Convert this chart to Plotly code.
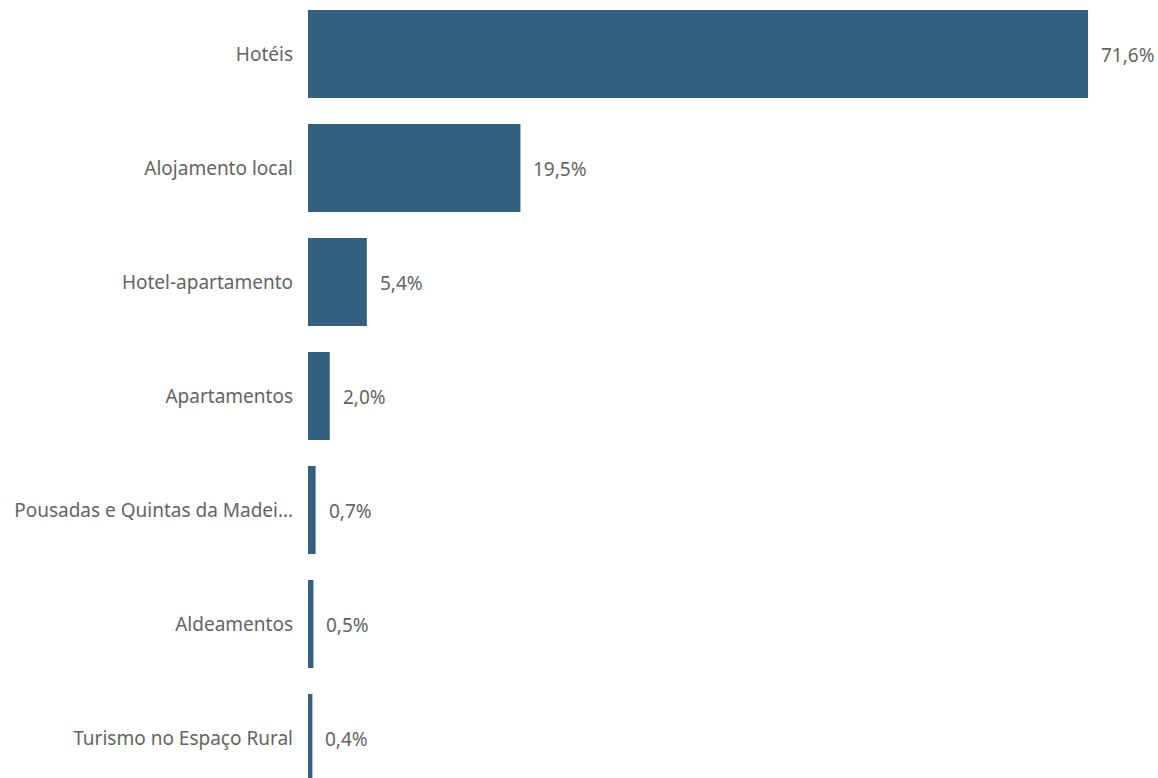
import plotly.graph_objects as go

categories = [
    "Hotéis",
    "Alojamento local",
    "Hotel-apartamento",
    "Apartamentos",
    "Pousadas e Quintas da Madei…",
    "Aldeamentos",
    "Turismo no Espaço Rural",
]
shares = [71.6, 19.5, 5.4, 2.0, 0.7, 0.5, 0.4]
value_labels = ["71,6%", "19,5%", "5,4%", "2,0%", "0,7%", "0,5%", "0,4%"]

BAR_COLOR = "#34607f"
TEXT_COLOR = "#646464"
FONT = "Noto Sans, Open Sans, sans-serif"
FONT_SIZE = 19

fig = go.Figure(
    go.Bar(
        x=shares,
        y=categories,
        orientation="h",
        marker=dict(color=BAR_COLOR, line=dict(width=0)),
        hoverinfo="skip",
    )
)

for cat, val, lab in zip(categories, shares, value_labels):
    fig.add_annotation(
        x=val, y=cat, text=lab, showarrow=False,
        xanchor="left", xshift=11, yshift=-1,
        font=dict(family=FONT, size=FONT_SIZE, color=TEXT_COLOR),
    )

fig.update_layout(
    width=1158, height=778,
    margin=dict(l=308, r=0, t=0, b=0),
    paper_bgcolor="white", plot_bgcolor="white",
    bargap=0.228,
    showlegend=False,
    font=dict(family=FONT, size=FONT_SIZE, color=TEXT_COLOR),
)
fig.update_xaxes(range=[0, 78.02], visible=False)
fig.update_yaxes(
    range=[6.351, -0.474],
    showgrid=False, zeroline=False, showline=False,
    ticks="", ticklabelstandoff=14,
    tickfont=dict(family=FONT, size=FONT_SIZE, color=TEXT_COLOR),
)

fig.write_html("out.html")
